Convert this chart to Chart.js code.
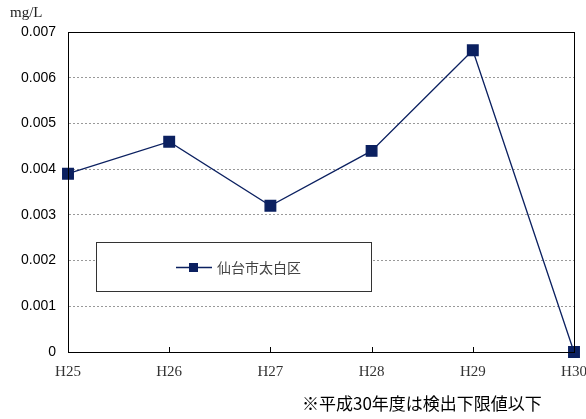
<!DOCTYPE html>
<html>
<head>
<meta charset="utf-8">
<script src="https://cdn.jsdelivr.net/npm/chart.js@4"></script>
<style>
  html, body { margin: 0; padding: 0; background: #fff; }
  #wrap { width: 586px; height: 419px; }
</style>
</head>
<body>
<div id="wrap"><canvas id="chart" width="586" height="419"></canvas></div>
<script>
const years = ['H25', 'H26', 'H27', 'H28', 'H29', 'H30'];
const values = [0.0039, 0.0046, 0.0032, 0.0044, 0.0066, 0];
const seriesName = '仙台市太白区';
const unitLabel = 'mg/L';
const footnote = '※平成30年度は検出下限値以下';

const lineColor = '#0b2060';

// frame, inner x ticks, legend box, unit and footnote
const extras = {
    id: 'extras',
    afterDraw(chart) {
        const ctx = chart.ctx;
        const a = chart.chartArea;
        const xs = chart.scales.x;
        ctx.save();
        ctx.strokeStyle = '#000';
        ctx.lineWidth = 1;
        ctx.strokeRect(a.left + 0.5, a.top + 0.5, a.right - a.left, a.bottom - a.top);
        // tick marks pointing up from the x axis
        ctx.beginPath();
        for (let i = 1; i < years.length - 1; i++) {
            const x = Math.round(xs.getPixelForValue(i)) + 0.5;
            ctx.moveTo(x, a.bottom);
            ctx.lineTo(x, a.bottom - 5);
        }
        ctx.stroke();

        // legend box
        ctx.fillStyle = '#fff';
        ctx.fillRect(96, 242, 275, 49);
        ctx.strokeStyle = '#333';
        ctx.strokeRect(96.5, 242.5, 275, 49);
        ctx.strokeStyle = lineColor;
        ctx.lineWidth = 1.3;
        ctx.beginPath();
        ctx.moveTo(176, 267.5);
        ctx.lineTo(212, 267.5);
        ctx.stroke();
        ctx.fillStyle = lineColor;
        ctx.fillRect(189, 263, 9, 9);
        ctx.fillStyle = '#444';
        ctx.font = '14px "Noto Sans CJK JP"';
        ctx.textBaseline = 'middle';
        ctx.textAlign = 'left';
        ctx.fillText(seriesName, 217, 268);

        // unit label
        ctx.fillStyle = '#222';
        ctx.font = '15px "Liberation Serif"';
        ctx.fillText(unitLabel, 10, 13);

        // footnote
        ctx.fillStyle = '#000';
        ctx.font = '17px "Noto Sans CJK JP"';
        ctx.fillText(footnote, 302, 404);
        ctx.restore();
    }
};

new Chart(document.getElementById('chart').getContext('2d'), {
    type: 'line',
    data: {
        labels: years,
        datasets: [{
            label: seriesName,
            data: values,
            borderColor: lineColor,
            backgroundColor: lineColor,
            borderWidth: 1.3,
            pointStyle: 'rect',
            pointRadius: 7.5,
            pointHoverRadius: 7.5,
            tension: 0,
            clip: false
        }]
    },
    options: {
        responsive: false,
        animation: false,
        events: [],
        layout: { padding: { top: 32, right: 12, left: 0, bottom: 32 } },
        plugins: {
            legend: { display: false },
            tooltip: { enabled: false }
        },
        scales: {
            x: {
                offset: false,
                grid: { display: false },
                border: { color: '#000', width: 1 },
                ticks: {
                    color: '#333',
                    padding: 3,
                    maxRotation: 0,
                    font: { family: 'Liberation Serif', size: 15 }
                },
                afterFit(scale) {
                    scale.height = 35;
                    scale.paddingLeft = 0;
                    scale.paddingRight = 0;
                }
            },
            y: {
                min: 0,
                max: 0.007,
                grid: { color: '#999', drawTicks: false, lineWidth: 1 },
                border: { color: '#000', width: 1, dash: [2, 2] },
                ticks: {
                    stepSize: 0.001,
                    padding: 12,
                    color: '#000',
                    font: { family: 'Liberation Sans', size: 14 },
                    callback: v => v === 0 ? '0' : v.toFixed(3)
                },
                afterFit(scale) { scale.width = 68; }
            }
        }
    },
    plugins: [extras]
});
</script>
</body>
</html>
